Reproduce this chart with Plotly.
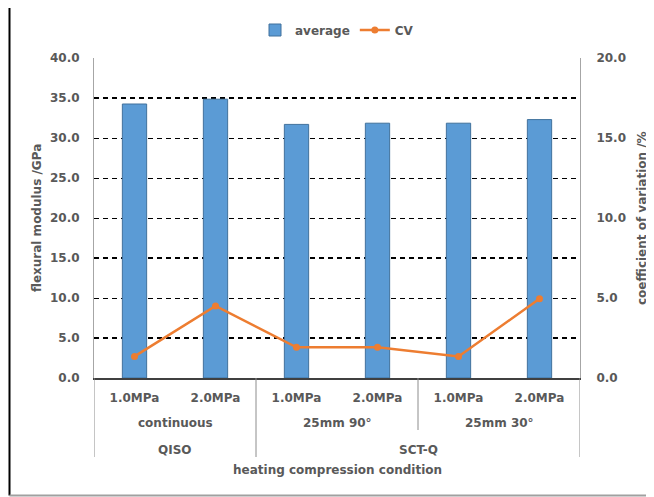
import plotly.graph_objects as go

# ---- data ----
pressure = ["1.0MPa", "2.0MPa", "1.0MPa", "2.0MPa", "1.0MPa", "2.0MPa"]
condition = ["continuous", "25mm 90°", "25mm 30°"]
group = ["QISO", "SCT-Q"]
average = [34.25, 34.85, 31.7, 31.85, 31.85, 32.3]
cv = [1.35, 4.5, 1.92, 1.92, 1.35, 4.95]
left_ticks = [0, 5, 10, 15, 20, 25, 30, 35, 40]
right_ticks = [0, 5, 10, 15, 20]

# page is 654x497, browser body has an 8px margin
OFF = 8
W, H = 654 - OFF, 497 - OFF
L, R, T, B = 94, 580, 58, 378   # plot area in page pixels
GRAY = "#595959"
FONT = "DejaVu Sans"

def px_x(p):
    return (p - L) / (R - L)

def px_y(p):
    return (B - p) / (B - T)

x_idx = list(range(len(pressure)))

fig = go.Figure()
fig.add_trace(go.Bar(
    x=x_idx, y=average, name="average", width=0.3,
    marker=dict(color="#5B9BD5", line=dict(color="#41719C", width=1)),
    yaxis="y",
))
fig.add_trace(go.Scatter(
    x=x_idx, y=cv, name="CV", mode="lines+markers",
    line=dict(color="#ED7D31", width=2.5),
    marker=dict(color="#ED7D31", size=7, symbol="circle"),
    yaxis="y2",
))

tickfont = dict(family=FONT, size=12, color=GRAY, weight="bold")

fig.update_layout(
    width=W, height=H,
    margin=dict(l=L - OFF, r=654 - R, t=T - OFF, b=497 - B, pad=0, autoexpand=False),
    paper_bgcolor="white", plot_bgcolor="white",
    showlegend=True,
    legend=dict(orientation="h", x=0.5, xanchor="center", y=px_y(30), yanchor="middle",
                font=dict(family=FONT, size=12, color=GRAY, weight="bold"),
                bgcolor="rgba(0,0,0,0)", itemwidth=30, tracegroupgap=0),
    xaxis=dict(
        range=[-0.5, 5.5], tickmode="array", tickvals=x_idx, ticktext=pressure,
        showgrid=False, zeroline=False, showline=True, linecolor="#404040", linewidth=1.5,
        ticks="", tickfont=tickfont, ticklabelstandoff=8, fixedrange=True,
    ),
    yaxis=dict(
        range=[0, 40], tickmode="array", tickvals=left_ticks,
        ticktext=[f"{v:.1f}" for v in left_ticks],
        showgrid=True, gridcolor="black", gridwidth=1, griddash="5px,4px",
        zeroline=False, showline=True, linecolor="#A6A6A6", linewidth=1,
        ticks="", tickfont=tickfont, ticklabelstandoff=11,
    ),
    yaxis2=dict(
        range=[0, 20], tickmode="array", tickvals=right_ticks,
        ticktext=[f"{v:.1f}" for v in right_ticks],
        overlaying="y", side="right", showgrid=False, zeroline=False,
        showline=True, linecolor="#A6A6A6", linewidth=1,
        ticks="", tickfont=tickfont, ticklabelstandoff=13,
    ),
    bargap=0.7,
)

# emphasised dashed gridlines as rendered in the reference
for yv in [35, 15, 5]:
    fig.add_shape(type="line", xref="paper", yref="y", x0=0, x1=1, y0=yv, y1=yv,
                  line=dict(color="black", width=2, dash="5px,4px"), layer="below")

# category divider lines under the axis
div_col = "#8C8C8C"
for xv, ybot in [(-0.5, 457), (1.5, 457), (5.5, 457), (3.5, 430)]:
    fig.add_shape(type="line", xref="x", yref="paper", x0=xv, x1=xv,
                  y0=0, y1=px_y(ybot), line=dict(color=div_col, width=1))

labfont = dict(family=FONT, size=12, color=GRAY, weight="bold")
# condition row
for i, c in enumerate(condition):
    fig.add_annotation(x=2 * i + 0.5, xref="x", y=px_y(423), yref="paper",
                       text=c, showarrow=False, font=labfont, yanchor="middle")
# group row
fig.add_annotation(x=0.5, xref="x", y=px_y(450), yref="paper", text=group[0],
                   showarrow=False, font=labfont, yanchor="middle")
fig.add_annotation(x=3.5, xref="x", y=px_y(450), yref="paper", text=group[1],
                   showarrow=False, font=labfont, yanchor="middle")
# axis titles
fig.add_annotation(x=0.5, xref="paper", y=px_y(470), yref="paper",
                   text="heating compression condition", showarrow=False,
                   font=labfont, yanchor="middle")
fig.add_annotation(x=px_x(37), xref="paper", y=0.5, yref="paper",
                   text="flexural modulus /GPa", textangle=-90, showarrow=False,
                   font=labfont, xanchor="center", yanchor="middle")
fig.add_annotation(x=px_x(642), xref="paper", y=0.5, yref="paper",
                   text="coefficient of variation /%", textangle=-90, showarrow=False,
                   font=labfont, xanchor="center", yanchor="middle")

# outer frame (left and bottom edges visible in the reference)
fig.add_shape(type="line", xref="paper", yref="paper", x0=px_x(9.5), x1=px_x(9.5),
              y0=px_y(7), y1=px_y(495.5), line=dict(color="black", width=2))
fig.add_shape(type="line", xref="paper", yref="paper", x0=px_x(9.5), x1=px_x(654),
              y0=px_y(495.5), y1=px_y(495.5), line=dict(color="#A0A0A0", width=2))

fig.write_html("out.html")
